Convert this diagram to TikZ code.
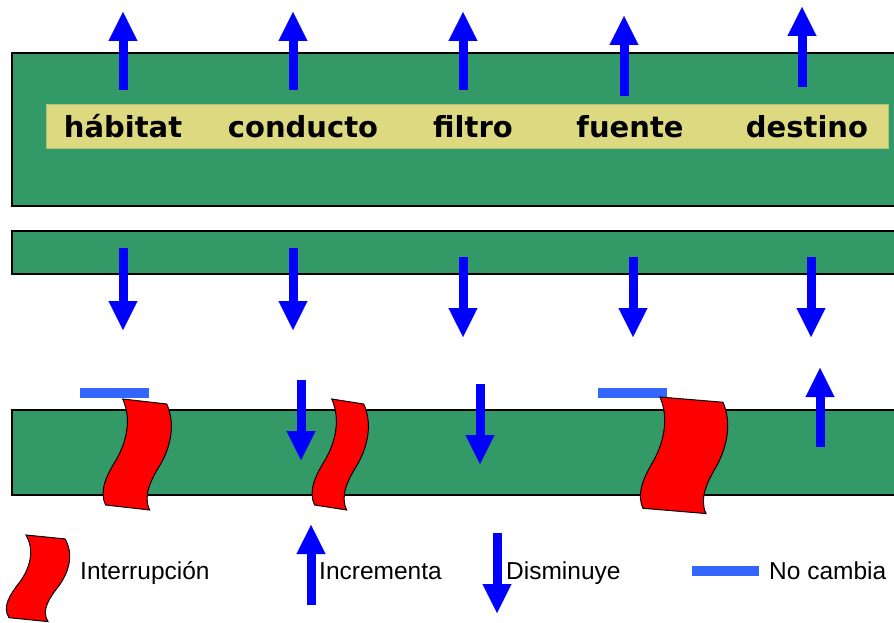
\documentclass[tikz,border=0pt]{standalone}
\usepackage{fontspec}
\setmainfont{DejaVu Sans}
\newfontfamily\leyendafont{Liberation Sans}
\usetikzlibrary{arrows.meta, positioning}
\definecolor{verde}{HTML}{339966}
\definecolor{paja}{HTML}{DDD980}
\definecolor{azul}{HTML}{0000FF}
\definecolor{celeste}{HTML}{3366FF}
\definecolor{rojo}{HTML}{FF0000}

\begin{document}
\begin{tikzpicture}[x=1pt, y=-1pt,
  banda/.style={fill=verde, draw=black, line width=1.2pt},
  borde/.style={draw=black, line width=2.2pt},
  etiqueta/.style={font=\fontsize{29}{30}\selectfont\bfseries, text=black, inner sep=0pt, anchor=base},
  leyenda/.style={font=\leyendafont\fontsize{24.5}{26}\selectfont, text=black, inner sep=0pt, anchor=base west},
  flecha/.style={line width=9pt, draw=azul, -{Triangle[length=29pt, width=29pt, line width=0.1pt, fill=azul]}},
  igual/.style={line width=10pt, draw=celeste},
  interrupcion/.style={fill=rojo, draw=black, line width=1pt}]

\newcommand*{\corte}[4]{\draw[interrupcion, shift={(#1,#2)}, yscale=#4] (0,0) -- (#3,5) .. controls (#3+9,25) and (#3+4,47) .. (#3-6,65) .. controls (#3-16,81) and (#3-24,97) .. (#3-17,111) -- (-17,106) .. controls (-24,92) and (-16,76) .. (-6,60) .. controls (4,42) and (9,20) .. (0,0) -- cycle;}

\clip (0,0) rectangle (894,623);

% BANDS

\draw[banda] (12,53) rectangle (904,206);
\draw[borde] (12,206) -- (894,206);
\draw[banda] (12,231) rectangle (904,274);
\draw[borde] (12,274) -- (894,274);
\draw[banda] (12,410) rectangle (904,495);
\draw[borde] (12,495) -- (894,495);

\fill[paja, draw=paja!70!verde, line width=0.8pt] (46,104) rectangle (888,148);

% LABELS

\node[etiqueta] (habitat)  at (123,138) {hábitat};
\node[etiqueta] (conducto) at (303,138) {conducto};
\node[etiqueta] (filtro)   at (473,138) {filtro};
\node[etiqueta] (fuente)   at (630,138) {fuente};
\node[etiqueta] (destino)  at (807,138) {destino};

% UPPER ARROWS

\draw[flecha] (123,90) -- (123,12);
\draw[flecha] (293,90) -- (293,12);
\draw[flecha] (463,90) -- (463,12);
\draw[flecha] (624,96) -- (624,16);
\draw[flecha] (802,87) -- (802,7);

% MIDDLE ARROWS

\draw[flecha] (123,248) -- (123,330);
\draw[flecha] (293,248) -- (293,330);
\draw[flecha] (463,257) -- (463,337);
\draw[flecha] (633,257) -- (633,337);
\draw[flecha] (811,257) -- (811,337);

% LOWER ROW

\draw[igual] (80,393) -- (149,393);
\corte{122.7}{399}{44}{1}
\draw[flecha] (301,380) -- (301,460);
\corte{331.7}{399}{32}{1}
\draw[flecha] (480,384) -- (480,464);
\draw[igual] (598,393) -- (667,393);
\corte{660}{397}{63}{1.05}
\draw[flecha] (820,447) -- (820,368);

% LEGEND

\corte{26}{535}{39}{0.78}
\node[leyenda] (interr) at (80,579) {Interrupción};
\draw[flecha] (311,605) -- (311,525);
\node[leyenda] (incr) at (319,579) {Incrementa};
\draw[flecha] (497,533) -- (497,613);
\node[leyenda] (dism) at (506,579) {Disminuye};
\draw[igual] (692,571) -- (759,571);
\node[leyenda] (nocamb) at (769,579) {No cambia};

\end{tikzpicture}
\end{document}
